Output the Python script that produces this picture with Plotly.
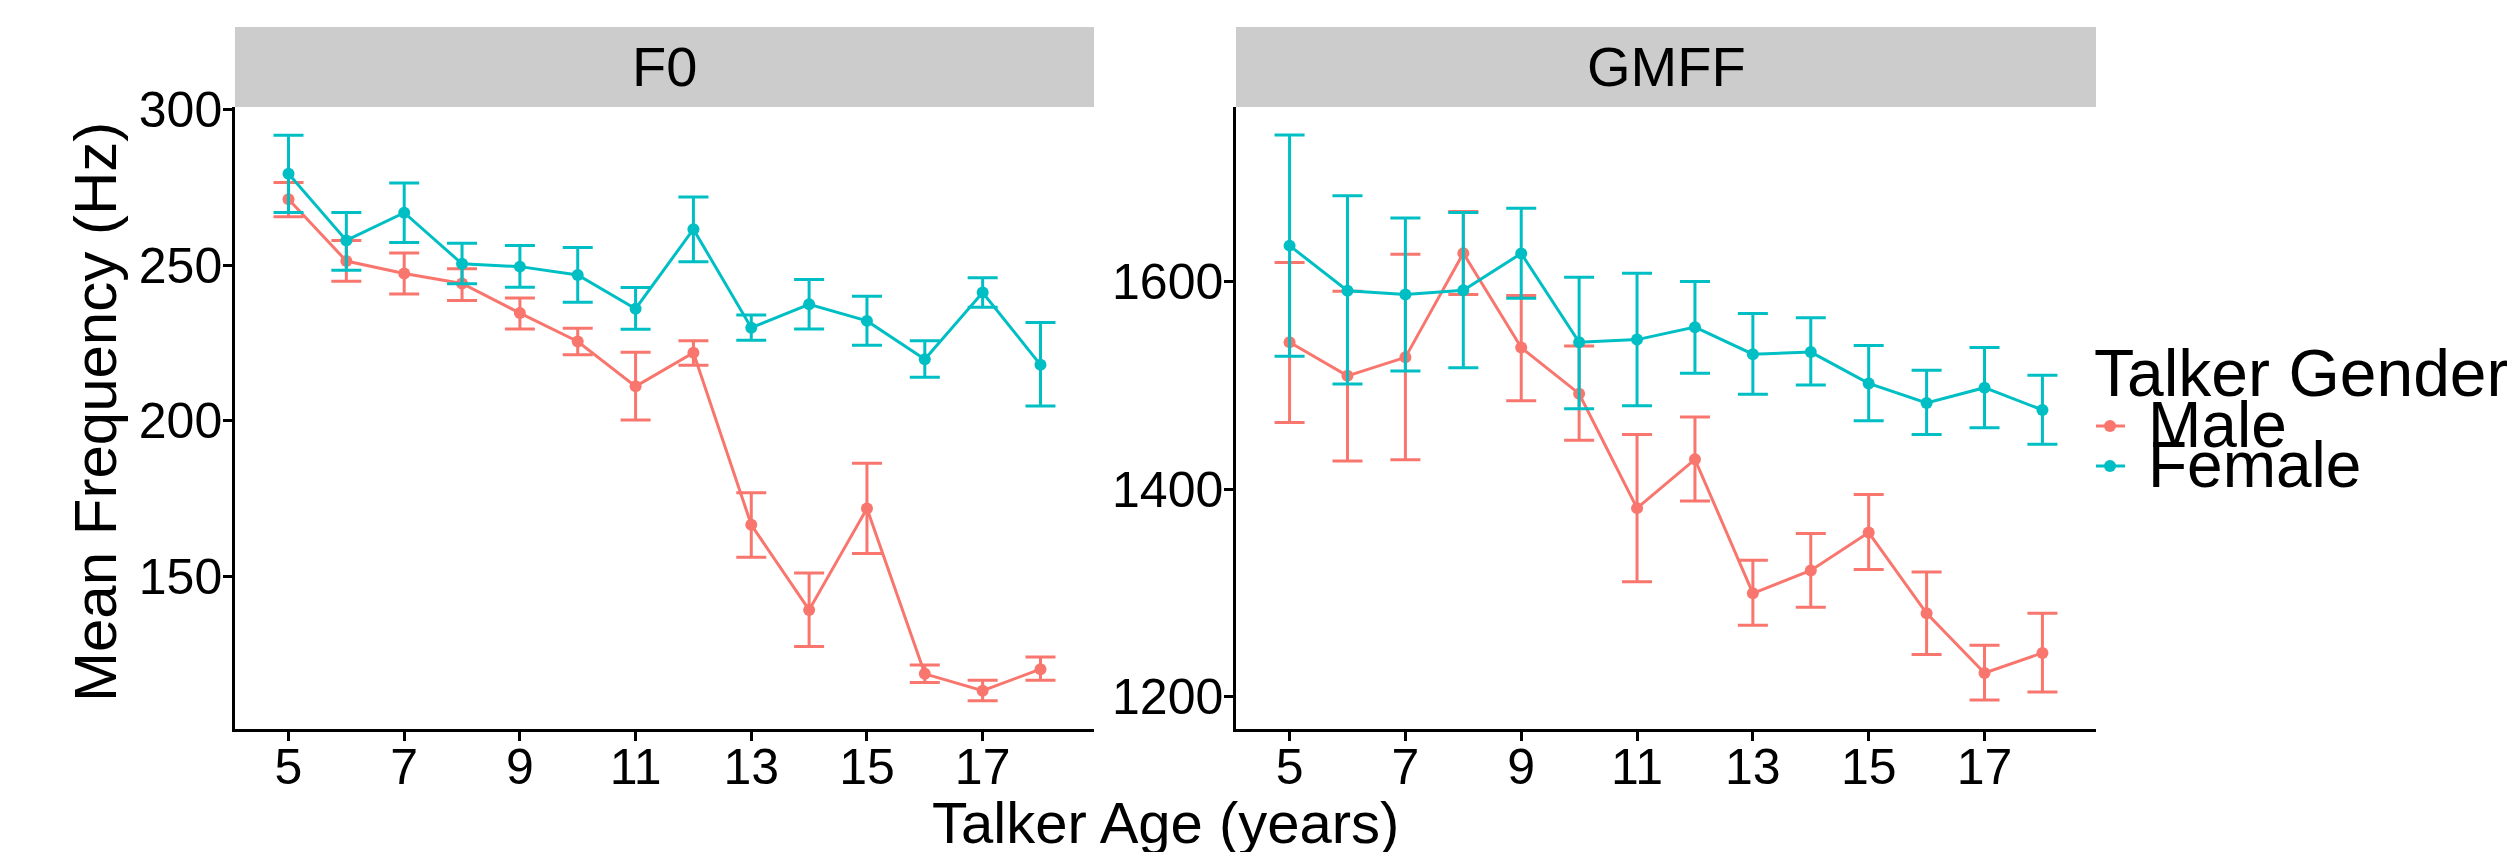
import plotly.graph_objects as go

# ---------------- data ----------------
ages = [5, 6, 7, 8, 9, 10, 11, 12, 13, 14, 15, 16, 17, 18]
genders = ["Male", "Female"]
panels = ["F0", "GMFF"]

f0_male = [271.1, 251.3, 247.3, 244.1, 234.6, 225.5, 211.1, 221.9, 166.7, 139.4, 171.9, 118.9, 113.5, 120.4]
f0_male_hi = [276.5, 257.9, 253.9, 248.8, 239.4, 229.7, 222.0, 225.7, 177.0, 151.2, 186.4, 121.7, 116.8, 124.3]
f0_male_lo = [265.5, 244.8, 240.7, 238.6, 229.5, 221.2, 200.3, 217.9, 156.3, 127.7, 157.5, 116.1, 110.3, 116.8]

f0_female = [279.3, 257.9, 266.8, 250.4, 249.5, 246.8, 236.0, 261.5, 229.9, 237.4, 232.1, 219.8, 241.2, 218.0]
f0_female_hi = [291.6, 266.9, 276.3, 257.0, 256.3, 255.6, 242.8, 271.8, 234.0, 245.4, 240.0, 225.7, 245.9, 231.6]
f0_female_lo = [266.9, 248.3, 257.2, 244.0, 242.9, 238.1, 229.4, 251.1, 225.9, 229.5, 224.3, 214.0, 236.5, 204.8]

gmff_male = [1541.5, 1509.1, 1526.9, 1627.2, 1536.3, 1491.9, 1381.7, 1428.7, 1299.7, 1321.7, 1358.2, 1280.4, 1223.0, 1242.3]
gmff_male_hi = [1618.3, 1590.6, 1626.1, 1667.4, 1586.4, 1537.9, 1452.7, 1469.5, 1331.6, 1357.2, 1394.8, 1320.1, 1249.6, 1280.4]
gmff_male_lo = [1464.2, 1427.2, 1428.2, 1587.5, 1485.1, 1447.0, 1310.7, 1388.5, 1269.0, 1286.2, 1322.7, 1240.7, 1196.9, 1204.7]

gmff_female = [1634.5, 1591.0, 1587.5, 1591.6, 1627.0, 1541.5, 1544.0, 1556.0, 1530.0, 1532.0, 1501.8, 1483.0, 1497.7, 1476.2]
gmff_female_hi = [1741.0, 1682.5, 1661.0, 1666.3, 1670.5, 1604.0, 1607.8, 1600.0, 1569.2, 1565.0, 1538.4, 1514.4, 1536.3, 1509.7]
gmff_female_lo = [1528.0, 1501.3, 1513.8, 1517.0, 1583.8, 1477.3, 1480.4, 1511.7, 1491.4, 1500.3, 1465.8, 1452.7, 1459.0, 1443.3]

x_tickvals = [5, 7, 9, 11, 13, 15, 17]
f0_tickvals = [150, 200, 250, 300]
gmff_tickvals = [1200, 1400, 1600]

# ---------------- styling ----------------
W, H = 2507, 852
FONT = "Liberation Sans, Arial, Helvetica, sans-serif"
colors = {"Male": "#F8766D", "Female": "#00BFC4"}

def px_x(p):
    return p / W

def px_y(p):
    return 1 - p / H

dom1 = [px_x(235), px_x(1094)]
dom2 = [px_x(1236), px_x(2096)]
ydom = [px_y(729), px_y(107)]

series = {
    ("F0", "Male"): (f0_male, f0_male_lo, f0_male_hi),
    ("F0", "Female"): (f0_female, f0_female_lo, f0_female_hi),
    ("GMFF", "Male"): (gmff_male, gmff_male_lo, gmff_male_hi),
    ("GMFF", "Female"): (gmff_female, gmff_female_lo, gmff_female_hi),
}

fig = go.Figure()
for pi, panel in enumerate(panels):
    xa = "x" if pi == 0 else "x2"
    ya = "y" if pi == 0 else "y2"
    for g in genders:
        m, lo, hi = series[(panel, g)]
        fig.add_trace(go.Scatter(
            x=ages, y=m, xaxis=xa, yaxis=ya, name=g, showlegend=False,
            mode="lines+markers",
            line=dict(color=colors[g], width=3),
            marker=dict(color=colors[g], size=12),
            error_y=dict(type="data", symmetric=False,
                         array=[h - v for h, v in zip(hi, m)],
                         arrayminus=[v - l for v, l in zip(m, lo)],
                         color=colors[g], thickness=3, width=15),
        ))

axis_common = dict(
    showline=True, linecolor="black", linewidth=2.5,
    ticks="outside", ticklen=9, tickwidth=2.5, tickcolor="black",
    showgrid=False, zeroline=False, automargin=False,
    tickfont=dict(family=FONT, size=50, color="black"),
)

fig.update_layout(
    template="none",
    width=W, height=H,
    margin=dict(l=0, r=0, t=0, b=0, pad=0, autoexpand=False),
    paper_bgcolor="white", plot_bgcolor="white",
    showlegend=False,
    xaxis=dict(domain=dom1, range=[4.075, 18.925], tickvals=x_tickvals, anchor="y",
               ticklabelstandoff=-17, **axis_common),
    yaxis=dict(domain=ydom, range=[101.2, 300.7], tickvals=f0_tickvals, anchor="x",
               ticklabelstandoff=-9, **axis_common),
    xaxis2=dict(domain=dom2, range=[4.075, 18.925], tickvals=x_tickvals, anchor="y2",
                ticklabelstandoff=-17, **axis_common),
    yaxis2=dict(domain=ydom, range=[1169.0, 1768.0], tickvals=gmff_tickvals, anchor="x2",
                ticklabelstandoff=-9, **axis_common),
)

shapes = []
annotations = []
# strips
for dom, label in zip([dom1, dom2], panels):
    shapes.append(dict(type="rect", xref="paper", yref="paper",
                       x0=dom[0], x1=dom[1], y0=px_y(107), y1=px_y(27),
                       fillcolor="#CCCCCC", line=dict(width=0), layer="below"))
    annotations.append(dict(text=label, xref="paper", yref="paper",
                            x=(dom[0] + dom[1]) / 2, y=px_y(67),
                            xanchor="center", yanchor="middle", showarrow=False,
                            font=dict(family=FONT, size=56, color="black")))

# axis titles
annotations.append(dict(text="Talker Age (years)", xref="paper", yref="paper",
                        x=px_x(1165), y=px_y(822), xanchor="center", yanchor="middle",
                        showarrow=False, font=dict(family=FONT, size=58, color="black")))
annotations.append(dict(text="Mean Frequency (Hz)", xref="paper", yref="paper",
                        x=px_x(95), y=px_y(412), xanchor="center", yanchor="middle",
                        textangle=-90, showarrow=False,
                        font=dict(family=FONT, size=60, color="black")))

# legend (drawn manually to mimic the compact ggplot legend)
annotations.append(dict(text="Talker Gender", xref="paper", yref="paper",
                        x=px_x(2092), y=px_y(373), xanchor="left", yanchor="middle",
                        showarrow=False, font=dict(family=FONT, size=66, color="black")))
for g, ky in zip(genders, [426, 466]):
    shapes.append(dict(type="line", xref="paper", yref="paper",
                       x0=px_x(2096), x1=px_x(2125), y0=px_y(ky), y1=px_y(ky),
                       line=dict(color=colors[g], width=3)))
    shapes.append(dict(type="circle", xref="paper", yref="paper",
                       x0=px_x(2104), x1=px_x(2116), y0=px_y(ky + 6), y1=px_y(ky - 6),
                       fillcolor=colors[g], line=dict(width=0)))
    annotations.append(dict(text=g, xref="paper", yref="paper",
                            x=px_x(2146), y=px_y(ky - 1), xanchor="left", yanchor="middle",
                            showarrow=False, font=dict(family=FONT, size=64, color="black")))

fig.update_layout(shapes=shapes, annotations=annotations)
fig.write_html("out.html", config={"displayModeBar": False},
               post_script="document.body.style.margin='0px';")
